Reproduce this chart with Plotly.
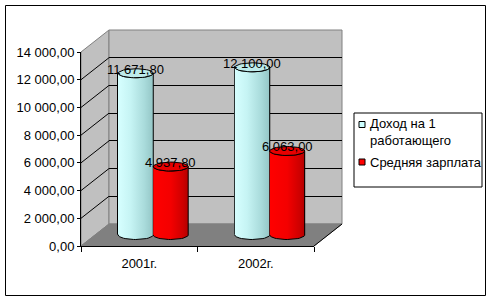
import numpy as np
import plotly.graph_objects as go

# ---------------- data ----------------
categories = ["2001г.", "2002г."]
series_names = ["Доход на 1<br>работающего", "Средняя зарплата"]
income = [11671.80, 12100.00]
salary = [4937.80, 6063.00]
y_ticks = [0, 2000, 4000, 6000, 8000, 10000, 12000, 14000]

# ---------------- geometry / style ----------------
W, H = 493, 302
def px(x): return x / W
def py(y): return 1 - y / H

FL, FR = 81, 314        # front floor edge (px)
F0, FT = 246, 52        # front y pixel of 0 and of max tick
DX, DY = 28, -22        # depth offset of back wall
VMAX = y_ticks[-1]
S = (F0 - FT) / VMAX    # px per unit
def fy(v): return F0 - v * S

FONT = "Liberation Sans, Arial, sans-serif"
WALL = "#C0C0C0"
EDGE = "#808080"
FLOOR = "#808080"

cyl_colors = [
    dict(legend="#CCFFFF", top="#BDEBEB",
         scale=[[0, "#D6FFFF"], [0.35, "#C6F4F4"], [0.75, "#A9DBDB"], [1, "#94C6C6"]]),
    dict(legend="#FF0000", top="#E80000",
         scale=[[0, "#FF0000"], [0.5, "#F40000"], [0.85, "#CE0000"], [1, "#B40000"]]),
]
series_values = [income, salary]

def fmt(v):
    return f"{v:,.2f}".replace(",", " ").replace(".", ",")

idx = list(range(len(categories)))
hw = 0.15                     # cylinder half width in category units
ry = 4.5 / S                  # ellipse half height (4.5 px) in data units
Y3LO, Y3HI = -1000, 14500
M0 = F0 + DY / 2              # pixel of value 0 at mid depth
def my(v): return M0 - v * S

fig = go.Figure()

# empty traces so that the wall-grid and front-axis subplots are drawn
fig.add_trace(go.Scatter(x=[], y=[], xaxis="x", yaxis="y", showlegend=False, hoverinfo="skip"))
fig.add_trace(go.Scatter(x=[], y=[], xaxis="x2", yaxis="y2", showlegend=False, hoverinfo="skip"))

# real bars (covered by cylinder rendering)
for k, (name, vals) in enumerate(zip(series_names, series_values)):
    fig.add_trace(go.Bar(
        x=idx, y=vals, width=2 * hw, offset=-2 * hw + k * 2 * hw,
        marker=dict(color=cyl_colors[k]["legend"], line=dict(color="black", width=1)),
        xaxis="x3", yaxis="y3", showlegend=False, name=name.replace("<br>", " "),
        hoverinfo="skip"))

# cylinder rendering
t_half = np.linspace(0, np.pi, 25)
t_full = np.linspace(0, 2 * np.pi, 49)
for i in idx:
    for k, vals in enumerate(series_values):
        v = vals[i]
        xc = i - hw + k * 2 * hw
        bx = xc + hw * np.cos(t_half[::-1])
        by = -ry * np.sin(t_half[::-1])
        tx = xc + hw * np.cos(t_half)
        tyy = v - ry * np.sin(t_half)
        xs = np.concatenate([[xc - hw], bx, [xc + hw], tx])
        ys = np.concatenate([[0], by, [v], tyy])
        fig.add_trace(go.Scatter(
            x=xs, y=ys, mode="lines", fill="toself",
            fillgradient=dict(type="horizontal", colorscale=cyl_colors[k]["scale"]),
            line=dict(color="black", width=1), xaxis="x3", yaxis="y3",
            showlegend=False, hoverinfo="skip"))
        fig.add_trace(go.Scatter(
            x=xc + hw * np.cos(t_full), y=v + ry * np.sin(t_full),
            mode="lines", fill="toself", fillcolor=cyl_colors[k]["top"],
            line=dict(color="black", width=1), xaxis="x3", yaxis="y3",
            showlegend=False, hoverinfo="skip"))

# data labels
annotations = []
for i in idx:
    for k, vals in enumerate(series_values):
        xc = i - hw + k * 2 * hw
        annotations.append(dict(
            x=xc, y=vals[i], xref="x3", yref="y3", text=fmt(vals[i]),
            showarrow=False, yshift=4, font=dict(family=FONT, size=13, color="black")))

# ---------------- walls & floor ----------------
shapes = []
def path(pts):
    return "M " + " L ".join(f"{px(x)},{py(y)}" for x, y in pts) + " Z"

shapes.append(dict(type="path", xref="paper", yref="paper", layer="below",
                   path=path([(FL, F0), (FL, FT), (FL + DX, FT + DY), (FL + DX, F0 + DY)]),
                   fillcolor=WALL, line=dict(color=EDGE, width=1)))
shapes.append(dict(type="rect", xref="paper", yref="paper", layer="below",
                   x0=px(FL + DX), x1=px(FR + DX), y0=py(F0 + DY), y1=py(FT + DY),
                   fillcolor=WALL, line=dict(color=EDGE, width=1)))
shapes.append(dict(type="path", xref="paper", yref="paper", layer="below",
                   path=path([(FL, F0), (FR, F0), (FR + DX, F0 + DY), (FL + DX, F0 + DY)]),
                   fillcolor=FLOOR, line=dict(color=FLOOR, width=1)))
shapes.append(dict(type="line", xref="paper", yref="paper", layer="below",
                   x0=px(FR), y0=py(F0), x1=px(FR + DX), y1=py(F0 + DY),
                   line=dict(color="black", width=1)))
for v in y_ticks[1:-1]:
    shapes.append(dict(type="line", xref="paper", yref="paper", layer="below",
                       x0=px(FL), y0=py(fy(v)), x1=px(FL + DX), y1=py(fy(v) + DY),
                       line=dict(color="black", width=1)))

# ---------------- manual legend ----------------
LX0, LX1, LY0, LY1 = 354, 482, 113, 187
shapes.append(dict(type="rect", xref="paper", yref="paper",
                   x0=px(LX0), x1=px(LX1), y0=py(LY1), y1=py(LY0),
                   fillcolor="white", line=dict(color="black", width=1)))
legend_rows = [124.5, 162]
text_rows = [132, 162]
for k, name in enumerate(series_names):
    yc = legend_rows[k]
    shapes.append(dict(type="rect", xref="paper", yref="paper",
                       x0=px(359), x1=px(365), y0=py(yc + 3), y1=py(yc - 3),
                       fillcolor=cyl_colors[k]["legend"], line=dict(color="black", width=1)))
    annotations.append(dict(x=px(368), y=py(text_rows[k]), xref="paper", yref="paper",
                            xanchor="left", yanchor="middle", align="left", text=name,
                            showarrow=False, font=dict(family=FONT, size=13, color="black")))

# outer chart border
shapes.append(dict(type="rect", xref="paper", yref="paper",
                   x0=px(5.5), x1=px(485.5), y0=py(295.5), y1=py(5.5),
                   line=dict(color="black", width=1)))

bounds = [i - 0.5 for i in idx] + [idx[-1] + 0.5]

fig.update_layout(
    width=W, height=H, autosize=False, margin=dict(l=0, r=0, t=0, b=0, pad=0),
    paper_bgcolor="white", plot_bgcolor="rgba(0,0,0,0)",
    separators=", ", showlegend=False, bargap=0,
    font=dict(family=FONT, size=13, color="black"),
    shapes=shapes, annotations=annotations,
    # back wall grid
    xaxis=dict(domain=[px(FL + DX), px(FR + DX)], range=[0, 1], anchor="y",
               showticklabels=False, ticks="", showgrid=False, zeroline=False, showline=False),
    yaxis=dict(domain=[py(F0 + DY), py(FT + DY)], range=[0, VMAX], anchor="x",
               tickvals=y_ticks[1:-1], showticklabels=False, ticks="",
               showgrid=True, gridcolor="black", gridwidth=1, zeroline=False, showline=False),
    # front axes
    xaxis2=dict(domain=[px(FL), px(FR)], range=[-0.5, len(categories) - 0.5], anchor="y2",
                tickvals=idx, ticktext=categories, ticks="", showgrid=False, zeroline=False,
                showline=True, linecolor="black", linewidth=1, ticklabelstandoff=5,
                automargin=False,
                tickfont=dict(family=FONT, size=13, color="black"),
                minor=dict(tickmode="array", tickvals=bounds, ticks="outside", ticklen=5,
                           tickcolor="black", tickwidth=1, showgrid=False)),
    yaxis2=dict(domain=[py(F0), py(FT)], range=[0, VMAX], anchor="x2",
                tickvals=y_ticks, tickformat=",.2f", ticks="outside", ticklen=3,
                tickcolor="black", showline=True, linecolor="black", linewidth=1,
                showgrid=False, zeroline=False, automargin=False,
                tickfont=dict(family=FONT, size=13, color="black")),
    # cylinders (mid depth)
    xaxis3=dict(domain=[px(FL + DX / 2), px(FR + DX / 2)], range=[-0.5, len(categories) - 0.5],
                visible=False, anchor="y3"),
    yaxis3=dict(domain=[py(my(Y3LO)), py(my(Y3HI))], range=[Y3LO, Y3HI],
                visible=False, anchor="x3"),
)

fig.write_html("out.html", config={"responsive": False, "displayModeBar": False})
